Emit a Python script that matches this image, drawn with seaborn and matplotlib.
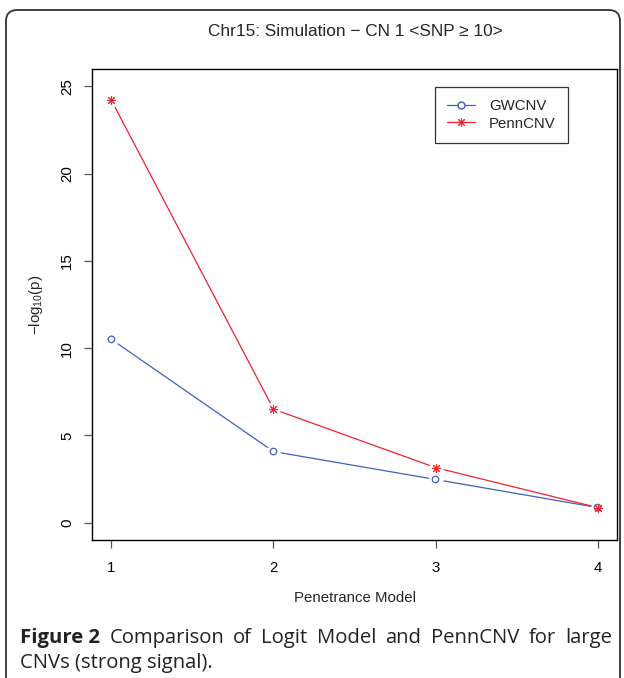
import numpy as np
import pandas as pd
import seaborn as sns
import matplotlib
matplotlib.use("Agg")
import matplotlib.pyplot as plt
from matplotlib.lines import Line2D
from matplotlib.patches import FancyBboxPatch

# ---- data ----
models = [1, 2, 3, 4]
gwcnv = [10.5, 4.07, 2.47, 0.86]
penncnv = [24.2, 6.5, 3.15, 0.86]
series_names = ["GWCNV", "PennCNV"]
title = "Chr15: Simulation \u2212 CN 1 <SNP \u2265 10>"
xlabel = "Penetrance Model"
ylabel = r"$-\mathrm{log}_{10}\mathrm{(p)}$"
caption_bold = "Figure 2"
caption_line1 = "Comparison of Logit Model and PennCNV for large"
caption_line2 = "CNVs (strong signal)."

blue = "#3F5FBF"
red = "#F0202E"

sns.set_theme(style="white")
plt.rcParams["font.family"] = ["Liberation Sans", "DejaVu Sans"]
plt.rcParams["mathtext.fontset"] = "custom"
plt.rcParams["mathtext.rm"] = "Liberation Sans"
plt.rcParams["mathtext.it"] = "Liberation Sans"

W, H = 624, 678
fig = plt.figure(figsize=(W / 100, H / 100), dpi=100)
fig.patch.set_facecolor("white")

# outer rounded frame (pixel coordinates, origin bottom-left)
frame = FancyBboxPatch((6, -30), 614, (H - 10) + 30,
                       boxstyle="round,pad=0,rounding_size=11",
                       transform=None, fill=False,
                       edgecolor="#333333", linewidth=1.3, clip_on=False)
fig.patches.append(frame)

ax = fig.add_axes([92 / W, 1 - 540 / H, (617 - 92) / W, (540 - 69) / H])

df = pd.DataFrame({
    "model": models * 2,
    "value": gwcnv + penncnv,
    "series": [series_names[0]] * 4 + [series_names[1]] * 4,
})

sns.lineplot(data=df, x="model", y="value", hue="series",
             palette={series_names[0]: blue, series_names[1]: red},
             linewidth=0.9, legend=False, ax=ax, zorder=2)

# white gaps around the points (R type="b")
sns.scatterplot(x=models + models, y=gwcnv + penncnv, color="white",
                s=110, linewidth=0, ax=ax, zorder=3, legend=False)

sns.scatterplot(x=models, y=gwcnv, marker="o", s=22, facecolor="none",
                edgecolor=blue, linewidth=0.9, ax=ax, zorder=4, legend=False)
ax.plot(models, penncnv, linestyle="none", marker=(8, 2, 0), markersize=6.5,
        markeredgecolor=red, markeredgewidth=0.75, color=red, zorder=5)

ax.set_xlim(0.88, 4.12)
ax.set_ylim(-1, 26)
ax.set_xticks(models)
ax.set_yticks([0, 5, 10, 15, 20, 25])
ax.set_xlabel(xlabel, fontsize=10.8, labelpad=12)
ax.set_ylabel(ylabel, fontsize=10.8, labelpad=11)
ax.set_title("")
fig.text(355 / W, 1 - 32 / H, title, fontsize=12.4, ha="center", va="center")

for s in ax.spines.values():
    s.set_visible(True)
    s.set_color("black")
    s.set_linewidth(1.0)

ax.tick_params(axis="both", which="both", direction="out", length=6,
               width=0.9, color="#555555", labelsize=10.8, labelcolor="black")
ax.tick_params(axis="x", bottom=True, pad=9)
ax.tick_params(axis="y", left=True, pad=7)
for lab in ax.get_yticklabels():
    lab.set_rotation(90)
    lab.set_va("center")

handles = [
    Line2D([], [], color=blue, marker="o", markerfacecolor="white",
           markeredgecolor=blue, markersize=5, linewidth=0.9),
    Line2D([], [], color=red, marker=(8, 2, 0), markeredgecolor=red,
           markeredgewidth=0.75, markersize=6.5, linewidth=0.9),
]
leg = ax.legend(handles, series_names, loc="upper left",
                bbox_to_anchor=(0.653, 0.962), frameon=True, fancybox=False,
                edgecolor="black", fontsize=10.8, handlelength=1.9,
                handletextpad=0.9, borderpad=0.8, labelspacing=0.25,
                borderaxespad=0)
leg.get_frame().set_linewidth(0.9)

# caption, justified first line
cap_font = ["Open Sans", "DejaVu Sans"]
renderer = fig.canvas.get_renderer()
x_left, x_right = 20 / W, 612 / W
y1 = 1 - 638 / H
y2 = 1 - 663 / H
words = [(caption_bold, "bold")] + [(w, "normal") for w in caption_line1.split()]

def natural_width(size):
    tmp = fig.text(0, 0, caption_bold + " ", fontsize=size, fontweight="bold",
                   family=cap_font)
    tmp2 = fig.text(0, 0, caption_line1, fontsize=size, family=cap_font)
    w = tmp.get_window_extent(renderer).width + tmp2.get_window_extent(renderer).width
    tmp.remove(); tmp2.remove()
    return w

cap_size = 13.0
for _ in range(3):
    cap_size *= 560.0 / natural_width(cap_size)

texts = []
for w, wt in words:
    t = fig.text(0, y1, w, fontsize=cap_size, fontweight=wt,
                 family=cap_font, va="center", ha="left", color="#222222")
    texts.append(t)
widths = [t.get_window_extent(renderer).width / W for t in texts]
gap = (x_right - x_left - sum(widths)) / (len(texts) - 1)
x = x_left
for t, wd in zip(texts, widths):
    t.set_x(x)
    x += wd + gap
fig.text(x_left, y2, caption_line2, fontsize=cap_size, family=cap_font,
         va="center", ha="left", color="#222222")

fig.savefig("out.png", dpi=100)
